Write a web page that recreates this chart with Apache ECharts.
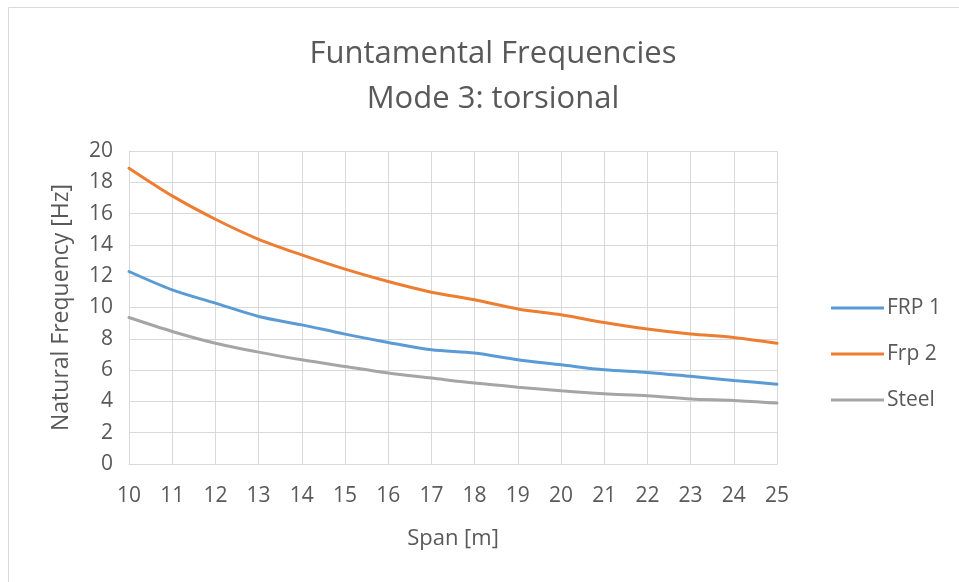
<!DOCTYPE html>
<html>
<head>
<meta charset="utf-8">
<script src="https://cdn.jsdelivr.net/npm/echarts@6/dist/echarts.min.js"></script>
<style>html,body{margin:0;padding:0;background:#fff;}#c{width:959px;height:582px;}</style>
</head>
<body>
<div id="c"></div>
<script>
const spans = ['10','11','12','13','14','15','16','17','18','19','20','21','22','23','24','25'];
const frp1  = [12.3,11.13,10.28,9.43,8.89,8.3,7.77,7.3,7.09,6.66,6.34,6.02,5.85,5.6,5.34,5.1];
const frp2  = [18.9,17.13,15.64,14.36,13.36,12.45,11.66,10.98,10.49,9.91,9.53,9.04,8.62,8.3,8.09,7.72];
const steel = [9.36,8.47,7.72,7.15,6.66,6.23,5.81,5.49,5.17,4.91,4.68,4.49,4.36,4.15,4.06,3.89];
const yTicks = [0,2,4,6,8,10,12,14,16,18,20];

const FONT = 'Open Sans';
const chart = echarts.init(document.getElementById('c'));
const mk = (name, data, color) => ({
  name, type: 'line', data, smooth: 0.3, showSymbol: false, symbol: 'none',
  lineStyle: { color, width: 3, cap: 'round' }, itemStyle: { color }
});
chart.setOption({
  animation: false,
  backgroundColor: '#fff',
  textStyle: { fontFamily: FONT },
  title: {
    text: 'Funtamental Frequencies\nMode 3: torsional',
    left: 488, textAlign: 'center', top: 27,
    textStyle: { fontFamily: FONT, fontSize: 31, fontWeight: 'normal', color: '#595959', lineHeight: 45 }
  },
  legend: {
    orient: 'vertical', left: 826, top: 289, itemGap: 18, itemWidth: 53, itemHeight: 3,
    icon: 'rect',
    textStyle: { fontFamily: FONT, fontSize: 21, color: '#595959', padding: [0,0,0,-2], lineHeight: 28 },
    data: ['FRP 1','Frp 2','Steel']
  },
  grid: { left: 129, right: 182, top: 151, bottom: 118, containLabel: false },
  xAxis: {
    type: 'category', data: spans, boundaryGap: false,
    name: 'Span [m]', nameLocation: 'middle', nameGap: 64,
    nameTextStyle: { fontFamily: FONT, fontSize: 22, color: '#595959' },
    axisLine: { lineStyle: { color: '#d9d9d9', width: 1 } },
    axisTick: { show: false },
    axisLabel: { fontFamily: FONT, fontSize: 21, color: '#595959', margin: 22 },
    splitLine: { show: true, lineStyle: { color: '#d9d9d9', width: 1 } }
  },
  yAxis: {
    type: 'value', min: yTicks[0], max: yTicks[yTicks.length-1], interval: 2,
    name: 'Natural Frequency [Hz]', nameLocation: 'middle', nameGap: 56,
    nameTextStyle: { fontFamily: FONT, fontSize: 23, color: '#595959' },
    axisLine: { show: true, lineStyle: { color: '#d9d9d9', width: 1 } },
    axisTick: { show: false },
    axisLabel: { fontFamily: FONT, fontSize: 21, color: '#595959', margin: 16 },
    splitLine: { show: true, lineStyle: { color: '#d9d9d9', width: 1 } }
  },
  graphic: [
    { type: 'line', shape: { x1: 8.5, y1: 7.5, x2: 959, y2: 7.5 }, style: { stroke: '#d9d9d9', lineWidth: 1 }, silent: true },
    { type: 'line', shape: { x1: 8.5, y1: 7.5, x2: 8.5, y2: 582 }, style: { stroke: '#d9d9d9', lineWidth: 1 }, silent: true }
  ],
  series: [
    mk('FRP 1', frp1, '#5b9bd5'),
    mk('Frp 2', frp2, '#ed7d31'),
    mk('Steel', steel, '#a5a5a5')
  ]
});
</script>
</body>
</html>
